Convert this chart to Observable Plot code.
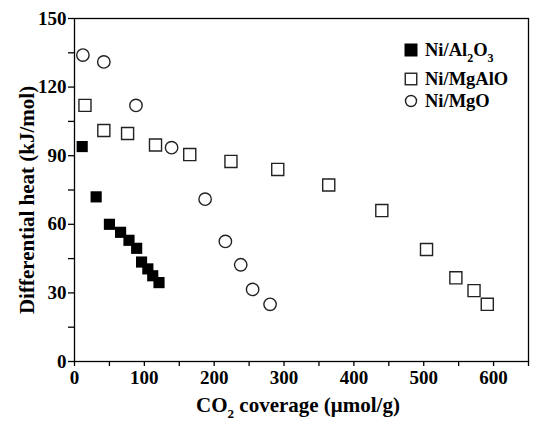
<!DOCTYPE html>
<html><head><meta charset="utf-8">
<script src="https://cdn.jsdelivr.net/npm/d3@7"></script>
<script src="https://cdn.jsdelivr.net/npm/@observablehq/plot@0.6"></script>
<style>body{margin:0;background:#fff} svg{display:block}</style>
</head><body><div id="chart"></div><script>
// Ni/Al2O3 (filled squares)
const alX = [11, 31, 50, 66, 78, 89, 96, 105, 112, 121];
const alY = [94, 72, 60, 56.5, 53, 49.5, 43.5, 40.5, 37.5, 34.5];
// Ni/MgAlO (open squares)
const mgAlX = [15, 42, 76, 116, 165, 224, 291, 364, 440, 504, 546, 572, 591];
const mgAlY = [112, 101, 99.7, 94.7, 90.5, 87.5, 84, 77.2, 66, 49, 36.6, 31, 25];
// Ni/MgO (open circles)
const mgX = [12, 42, 88, 139, 187, 216, 238, 255, 280];
const mgY = [134, 131, 112, 93.5, 71, 52.5, 42.3, 31.5, 25];

const xTicks = [0, 100, 200, 300, 400, 500, 600];
const xMinor = [50, 150, 250, 350, 450, 550, 650];
const yTicks = [0, 30, 60, 90, 120, 150];
const yMinor = [15, 45, 75, 105, 135];

const xLabel = ["CO", "2", " coverage (\u03bcmol/g)"];
const yLabel = "Differential heat (kJ/mol)";
const legendItems = [
  {parts: ["Ni/Al", "2", "O", "3"], symbol: "square", fill: "black"},
  {parts: ["Ni/MgAlO"], symbol: "square", fill: "none"},
  {parts: ["Ni/MgO"], symbol: "circle", fill: "none"}
];

const al = alX.map((x, i) => ({x, y: alY[i]}));
const mgAl = mgAlX.map((x, i) => ({x, y: mgAlY[i]}));
const mg = mgX.map((x, i) => ({x, y: mgY[i]}));

const font = "'Liberation Serif', 'Times New Roman', serif";

const chart = Plot.plot({
  width: 534, height: 422,
  marginLeft: 74, marginRight: 6, marginTop: 18, marginBottom: 61,
  x: {domain: [0, 650]},
  y: {domain: [0, 150]},
  style: {fontFamily: font, fontWeight: "bold", fontSize: "19px", color: "black", background: "white"},
  marks: [
    Plot.frame({stroke: "black", strokeWidth: 1.3}),
    Plot.axisX({ticks: xTicks, tickSize: 5, tickPadding: 4, label: null, strokeWidth: 1.3}),
    Plot.axisX({ticks: xMinor, tickSize: 5, text: null, label: null, strokeWidth: 1.3}),
    Plot.axisY({ticks: yTicks, tickSize: 6, tickPadding: 2, label: null, strokeWidth: 1.3}),
    Plot.axisY({ticks: yMinor, tickSize: 6, text: null, label: null, strokeWidth: 1.3}),
    Plot.dot(mgAl, {x: "x", y: "y", symbol: "square", r: 6.8, stroke: "#222", strokeWidth: 1.4, fill: "white"}),
    Plot.dot(mg, {x: "x", y: "y", symbol: "circle", r: 6.2, stroke: "#222", strokeWidth: 1.4, fill: "white"}),
    Plot.dot(al, {x: "x", y: "y", symbol: "square", r: 6.3, fill: "black", stroke: "none"})
  ]
});
document.getElementById("chart").appendChild(chart);

const svg = d3.select(chart);
// x axis title with subscript
const xt = svg.append("text")
  .attr("x", 298).attr("y", 412).attr("text-anchor", "middle")
  .style("font-family", font).style("font-weight", "bold").style("font-size", "21px");
xt.append("tspan").text(xLabel[0]);
xt.append("tspan").text(xLabel[1]).attr("dy", 6).style("font-size", "13px");
xt.append("tspan").text(xLabel[2]).attr("dy", -6);

// y axis title
svg.append("text")
  .attr("transform", "translate(34,200) rotate(-90)").attr("text-anchor", "middle")
  .style("font-family", font).style("font-weight", "bold").style("font-size", "21px")
  .text(yLabel);

// legend
const lg = svg.append("g").attr("transform", "translate(411,50)");
legendItems.forEach((d, i) => {
  const g = lg.append("g").attr("transform", `translate(0,${[0, 29, 51][i]})`);
  if (d.symbol === "square") {
    const s = d.fill === "none" ? 11.5 : 13;
    g.append("rect").attr("x", -s / 2).attr("y", -s / 2).attr("width", s).attr("height", s)
      .attr("fill", d.fill === "none" ? "white" : d.fill).attr("stroke", d.fill === "none" ? "#222" : "none").attr("stroke-width", 1.4);
  } else {
    g.append("circle").attr("r", 5.5).attr("fill", "white").attr("stroke", "#222").attr("stroke-width", 1.4);
  }
  const t = g.append("text").attr("x", 14).attr("y", 6).attr("text-anchor", "start")
    .style("font-family", font).style("font-weight", "bold").style("font-size", "18.5px");
  d.parts.forEach((p, j) => {
    const sub = j % 2 === 1;
    t.append("tspan").text(p).attr("dy", j === 0 ? 0 : (sub ? 6 : -6)).style("font-size", sub ? "12px" : "18.5px");
  });
});
</script></body></html>
